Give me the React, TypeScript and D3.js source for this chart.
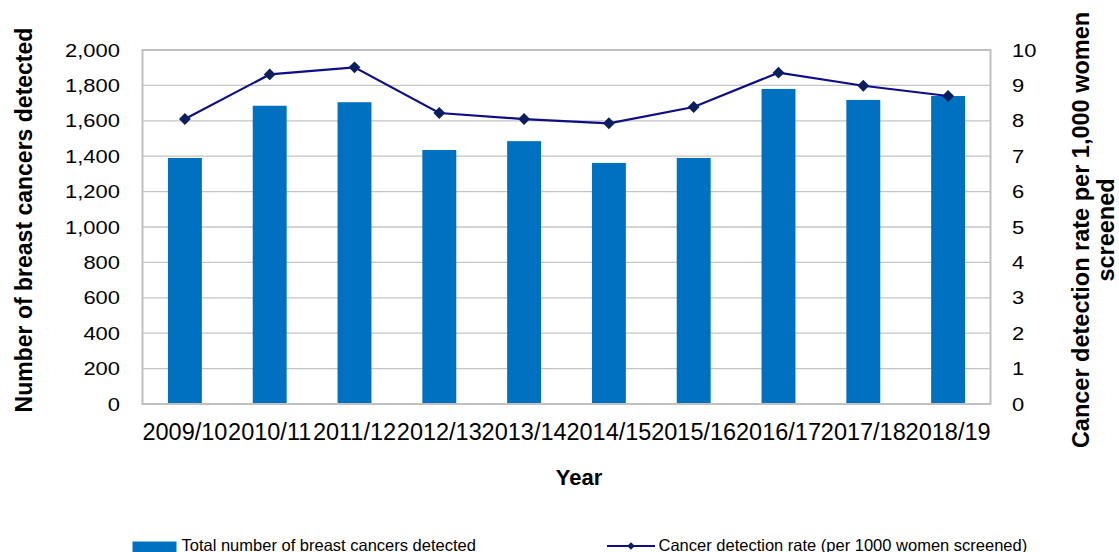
import React, { useEffect, useRef } from "react";
import * as d3 from "d3";

const years = [
  "2009/10",
  "2010/11",
  "2011/12",
  "2012/13",
  "2013/14",
  "2014/15",
  "2015/16",
  "2016/17",
  "2017/18",
  "2018/19",
];
const cancersDetected = [1390, 1685, 1705, 1435, 1485, 1362, 1390, 1780, 1718, 1740];
const detectionRate = [8.05, 9.31, 9.51, 8.22, 8.05, 7.93, 8.39, 9.36, 8.99, 8.7];
const countTicks = [0, 200, 400, 600, 800, 1000, 1200, 1400, 1600, 1800, 2000];
const rateTicks = [0, 1, 2, 3, 4, 5, 6, 7, 8, 9, 10];

const WIDTH = 1119;
const HEIGHT = 552;
const FONT = "'Liberation Sans', Arial, sans-serif";

const App: React.FC = () => {
  const svgRef = useRef<SVGSVGElement>(null);

  useEffect(() => {
    const svg = d3.select(svgRef.current);
    svg.selectAll("*").remove();

    const left = 142.5;
    const right = 990.5;
    const top = 50;
    const bottom = 404;

    const x = d3
      .scaleBand()
      .domain(years)
      .range([left, right])
      .paddingInner(0.6)
      .paddingOuter(0.3);
    const yCount = d3.scaleLinear().domain([0, 2000]).range([bottom, top]);
    const yRate = d3.scaleLinear().domain([0, 10]).range([bottom, top]);

    // gridlines
    svg
      .append("g")
      .selectAll("line")
      .data(countTicks.slice(1, -1))
      .join("line")
      .attr("x1", left)
      .attr("x2", right)
      .attr("y1", (d) => yCount(d))
      .attr("y2", (d) => yCount(d))
      .attr("stroke", "#c4c4c4")
      .attr("stroke-width", 1.3);

    // bars
    svg
      .append("g")
      .selectAll("rect")
      .data(years)
      .join("rect")
      .attr("x", (d) => x(d)!)
      .attr("width", x.bandwidth())
      .attr("y", (d, i) => yCount(cancersDetected[i]))
      .attr("height", (d, i) => yCount(0) - yCount(cancersDetected[i]))
      .attr("fill", "#0070c0");

    // plot frame
    svg
      .append("rect")
      .attr("x", left)
      .attr("y", top)
      .attr("width", right - left)
      .attr("height", bottom - top)
      .attr("fill", "none")
      .attr("stroke", "#c0c0c0")
      .attr("stroke-width", 2);

    // rate line
    const cx = (d: string) => x(d)! + x.bandwidth() / 2;
    const line = d3
      .line<string>()
      .x((d) => cx(d))
      .y((d, i) => yRate(detectionRate[i]));
    svg
      .append("path")
      .attr("d", line(years))
      .attr("fill", "none")
      .attr("stroke", "#0d0d8a")
      .attr("stroke-width", 2.2);

    const diamond = d3.symbol(d3.symbolSquare, 70)();
    svg
      .append("g")
      .selectAll("path")
      .data(years)
      .join("path")
      .attr("d", diamond)
      .attr(
        "transform",
        (d, i) => `translate(${cx(d)},${yRate(detectionRate[i])}) rotate(45)`
      )
      .attr("fill", "#0b1f5c");

    // left tick labels
    svg
      .append("g")
      .selectAll("text")
      .data(countTicks)
      .join("text")
      .attr("transform", (d) => `translate(120,${yCount(d) + 6.5}) scale(1.22,1)`)
      .attr("text-anchor", "end")
      .attr("font-family", FONT)
      .attr("font-size", 18)
      .attr("fill", "#000")
      .text((d) => d3.format(",")(d));

    // right tick labels
    svg
      .append("g")
      .selectAll("text")
      .data(rateTicks)
      .join("text")
      .attr("transform", (d) => `translate(1012,${yRate(d) + 6.5}) scale(1.22,1)`)
      .attr("text-anchor", "start")
      .attr("font-family", FONT)
      .attr("font-size", 18)
      .attr("fill", "#000")
      .text((d) => d);

    // x tick labels
    svg
      .append("g")
      .selectAll("text")
      .data(years)
      .join("text")
      .attr("x", (d) => cx(d))
      .attr("y", 440)
      .attr("text-anchor", "middle")
      .attr("font-family", FONT)
      .attr("font-size", 23.5)
      .attr("fill", "#000")
      .text((d) => d);

    // axis titles
    svg
      .append("text")
      .attr("transform", "translate(32,220) rotate(-90)")
      .attr("text-anchor", "middle")
      .attr("font-family", FONT)
      .attr("font-size", 23)
      .attr("font-weight", "bold")
      .text("Number of breast cancers detected");

    svg
      .append("text")
      .attr("x", 579)
      .attr("y", 485)
      .attr("text-anchor", "middle")
      .attr("font-family", FONT)
      .attr("font-size", 22)
      .attr("font-weight", "bold")
      .text("Year");

    const rightTitle = svg
      .append("text")
      .attr("transform", "translate(1089,230) rotate(-90)")
      .attr("text-anchor", "middle")
      .attr("font-family", FONT)
      .attr("font-size", 23.5)
      .attr("font-weight", "bold");
    rightTitle
      .append("tspan")
      .attr("x", 0)
      .attr("y", 0)
      .text("Cancer detection rate per 1,000 women");
    rightTitle.append("tspan").attr("x", 0).attr("dy", 25).text("screened");

    // legend
    const legend = svg.append("g").attr("font-family", FONT).attr("font-size", 16.5);
    legend
      .append("rect")
      .attr("x", 132.5)
      .attr("y", 541.5)
      .attr("width", 44)
      .attr("height", 11)
      .attr("fill", "#0070c0");
    legend
      .append("text")
      .attr("x", 181.5)
      .attr("y", 550.5)
      .text("Total number of breast cancers detected");
    legend
      .append("line")
      .attr("x1", 607)
      .attr("x2", 655)
      .attr("y1", 546)
      .attr("y2", 546)
      .attr("stroke", "#0d0d8a")
      .attr("stroke-width", 2.2);
    legend
      .append("path")
      .attr("d", d3.symbol(d3.symbolSquare, 30)())
      .attr("transform", "translate(631,546) rotate(45)")
      .attr("fill", "#0b1f5c");
    legend
      .append("text")
      .attr("x", 658.5)
      .attr("y", 550.5)
      .text("Cancer detection rate (per 1000 women screened)");
  }, []);

  return (
    <svg
      ref={svgRef}
      width={WIDTH}
      height={HEIGHT}
      style={{ position: "absolute", left: 0, top: 0, background: "#fff" }}
    />
  );
};

export default App;
